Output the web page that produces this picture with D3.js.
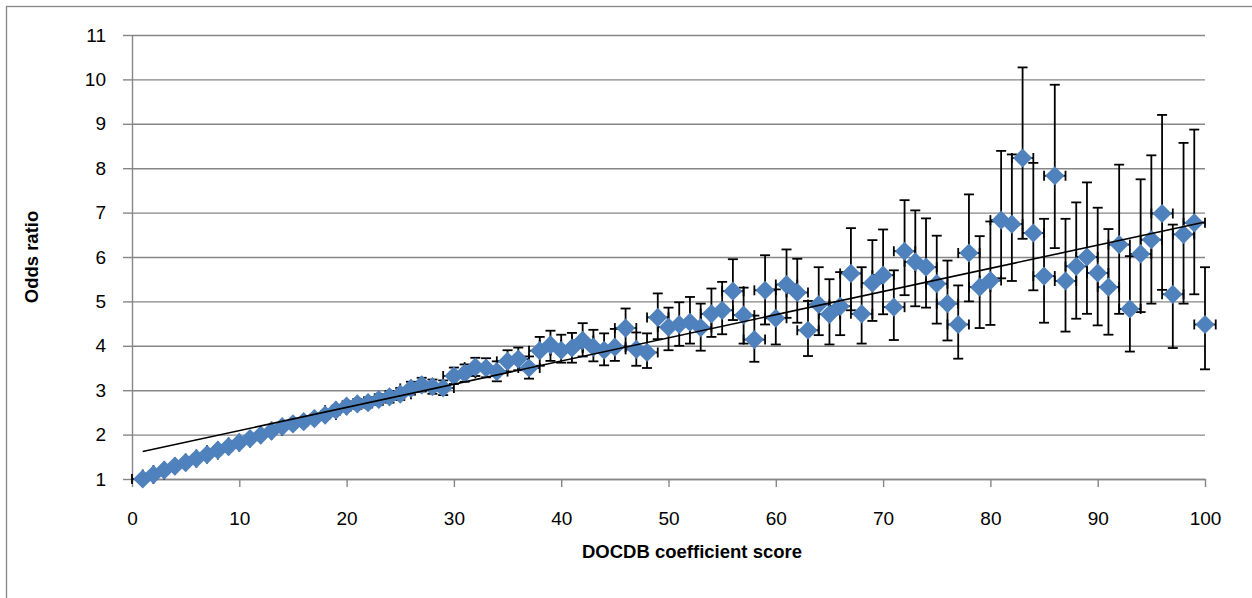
<!DOCTYPE html>
<html>
<head>
<meta charset="utf-8">
<script src="https://cdn.jsdelivr.net/npm/d3@7"></script>
<style>
  html, body { margin: 0; padding: 0; background: #fff; }
  svg { display: block; }
</style>
</head>
<body>
<svg id="chart" width="1252" height="598"></svg>
<script>
// ---- data ----
const scores = d3.range(1, 101);
const oddsRatio = [
  1.00,1.10,1.20,1.29,1.37,1.46,1.55,1.65,1.73,1.82,
  1.91,1.99,2.08,2.18,2.24,2.29,2.36,2.44,2.55,2.64,
  2.69,2.72,2.79,2.85,2.91,3.04,3.12,3.08,3.05,3.32,
  3.38,3.52,3.50,3.42,3.65,3.70,3.50,3.89,4.02,3.90,
  3.95,4.12,3.97,3.90,3.97,4.40,3.92,3.85,4.64,4.42,
  4.48,4.53,4.41,4.72,4.80,5.23,4.69,4.14,5.25,4.62,
  5.38,5.20,4.35,4.93,4.71,4.89,5.63,4.72,5.41,5.59,
  4.87,6.13,5.89,5.77,5.40,4.95,4.48,6.09,5.32,5.47,
  6.83,6.74,8.23,6.54,5.57,7.83,5.46,5.79,6.00,5.64,
  5.32,6.28,4.83,6.07,6.39,6.98,5.16,6.51,6.77,4.48
];
const ciLower = [
  1.00,1.07,1.17,1.25,1.33,1.42,1.50,1.60,1.68,1.76,
  1.85,1.93,2.01,2.11,2.16,2.21,2.28,2.35,2.45,2.54,
  2.58,2.61,2.67,2.72,2.78,2.90,2.97,2.92,2.89,3.14,
  3.19,3.32,3.29,3.20,3.42,3.45,3.26,3.55,3.66,3.62,
  3.62,3.76,3.65,3.56,3.66,3.98,3.55,3.50,4.15,3.90,
  4.00,4.05,3.89,4.20,4.26,4.58,4.05,3.64,4.48,4.03,
  4.63,4.52,3.77,4.24,4.03,4.24,4.80,4.05,4.56,4.71,
  4.13,5.14,4.89,4.86,4.50,4.12,3.71,5.00,4.40,4.47,
  5.52,5.46,6.41,5.25,4.52,6.20,4.32,4.61,4.72,4.46,
  4.25,4.72,3.87,4.76,4.95,5.26,3.95,4.95,5.16,3.47
];
const ciUpper = [
  1.00,1.13,1.23,1.33,1.41,1.50,1.60,1.70,1.78,1.88,
  1.97,2.05,2.15,2.25,2.32,2.37,2.45,2.53,2.65,2.75,
  2.80,2.84,2.91,2.98,3.05,3.19,3.28,3.24,3.22,3.51,
  3.58,3.73,3.72,3.65,3.90,3.96,3.76,4.20,4.34,4.25,
  4.29,4.51,4.36,4.28,4.38,4.84,4.30,4.28,5.18,4.86,
  4.98,5.10,4.95,5.29,5.44,5.95,5.31,4.68,6.04,5.27,
  6.17,5.96,5.01,5.77,5.50,5.66,6.65,5.77,6.38,6.62,
  5.70,7.28,7.05,6.87,6.48,5.92,5.36,7.41,6.47,6.80,
  8.39,8.31,10.27,8.12,6.86,9.88,6.86,7.23,7.68,7.11,
  6.63,8.08,6.02,7.75,8.29,9.20,6.73,8.57,8.87,5.77
];
const scoreError = 1;               // horizontal error bar (± score units)
const trendX = [1, 100];            // linear trend line end points
const trendY = [1.62, 6.79];
const xTicks = [0,10,20,30,40,50,60,70,80,90,100];
const yTicks = [1,2,3,4,5,6,7,8,9,10,11];
const xTitle = "DOCDB coefficient score";
const yTitle = "Odds ratio";

// ---- layout ----
const svg = d3.select("#chart");
const FONT = "'Liberation Sans', Arial, sans-serif";
const pL = 132, pR = 1205, pT = 35, pB = 479;
const x = d3.scaleLinear().domain([0, 100]).range([pL, pR]);
const y = d3.scaleLinear().domain([1, 11]).range([pB, pT]);
const axisColor = "#868686";

// outer chart border
svg.append("rect")
  .attr("x", 6.5).attr("y", 6.5).attr("width", 1260).attr("height", 620)
  .attr("fill", "none").attr("stroke", axisColor).attr("stroke-width", 1.3);

// gridlines
const grid = svg.append("g").attr("transform", `translate(${pL},0)`)
  .call(d3.axisLeft(y).tickValues(yTicks).tickSize(-(pR - pL)).tickFormat(""));
grid.select(".domain").remove();
grid.selectAll("line").attr("stroke", axisColor).attr("stroke-width", 1.4);

// y axis
const yAxis = svg.append("g").attr("transform", `translate(${pL},0)`)
  .call(d3.axisLeft(y).tickValues(yTicks).tickSize(9).tickPadding(17).tickSizeOuter(0));
yAxis.select(".domain").attr("stroke", axisColor).attr("stroke-width", 1.4);
yAxis.selectAll("line").attr("stroke", axisColor).attr("stroke-width", 1.4);
yAxis.selectAll("text").attr("font-family", FONT).attr("font-size", 19).attr("fill", "#000");

// x axis
const xAxis = svg.append("g").attr("transform", `translate(0,${pB})`)
  .call(d3.axisBottom(x).tickValues(xTicks).tickSize(8).tickSizeOuter(0));
xAxis.select(".domain").attr("stroke", axisColor).attr("stroke-width", 1.4);
xAxis.selectAll("line").attr("stroke", axisColor).attr("stroke-width", 1.4);
xAxis.selectAll("text").attr("font-family", FONT).attr("font-size", 19).attr("fill", "#000")
  .attr("y", 39).attr("dy", "0.35em");

// titles
svg.append("text").attr("x", 692).attr("y", 552).attr("dy", "0.35em")
  .attr("text-anchor", "middle").attr("font-family", FONT).attr("font-size", 18.5)
  .attr("font-weight", "bold").text(xTitle);
svg.append("text").attr("transform", `translate(32,${(pT + pB) / 2}) rotate(-90)`)
  .attr("dy", "0.35em").attr("text-anchor", "middle").attr("font-family", FONT)
  .attr("font-size", 18.5).attr("font-weight", "bold").text(yTitle);

// data
const data = scores.map((s, i) => ({ s, v: oddsRatio[i], lo: ciLower[i], hi: ciUpper[i] }));
const cap = 5;
const eb = svg.append("g").attr("stroke", "#000").attr("stroke-width", 1.8).attr("fill", "none");
data.forEach(d => {
  const cx = x(d.s), cy = y(d.v);
  // vertical
  eb.append("line").attr("x1", cx).attr("x2", cx).attr("y1", y(d.lo)).attr("y2", y(d.hi));
  eb.append("line").attr("x1", cx - cap).attr("x2", cx + cap).attr("y1", y(d.lo)).attr("y2", y(d.lo));
  eb.append("line").attr("x1", cx - cap).attr("x2", cx + cap).attr("y1", y(d.hi)).attr("y2", y(d.hi));
  // horizontal
  const xl = x(d.s - scoreError), xr = x(d.s + scoreError);
  eb.append("line").attr("x1", xl).attr("x2", xr).attr("y1", cy).attr("y2", cy);
  eb.append("line").attr("x1", xl).attr("x2", xl).attr("y1", cy - cap).attr("y2", cy + cap);
  eb.append("line").attr("x1", xr).attr("x2", xr).attr("y1", cy - cap).attr("y2", cy + cap);
});

// diamonds
const r = 9.6;
svg.append("g").selectAll("path").data(data).join("path")
  .attr("d", d => {
    const cx = x(d.s), cy = y(d.v);
    return `M${cx},${cy - r}L${cx + r},${cy}L${cx},${cy + r}L${cx - r},${cy}Z`;
  })
  .attr("fill", "#4F81BD");

// trend line
svg.append("line")
  .attr("x1", x(trendX[0])).attr("y1", y(trendY[0]))
  .attr("x2", x(trendX[1])).attr("y2", y(trendY[1]))
  .attr("stroke", "#000").attr("stroke-width", 1.6);
</script>
</body>
</html>
